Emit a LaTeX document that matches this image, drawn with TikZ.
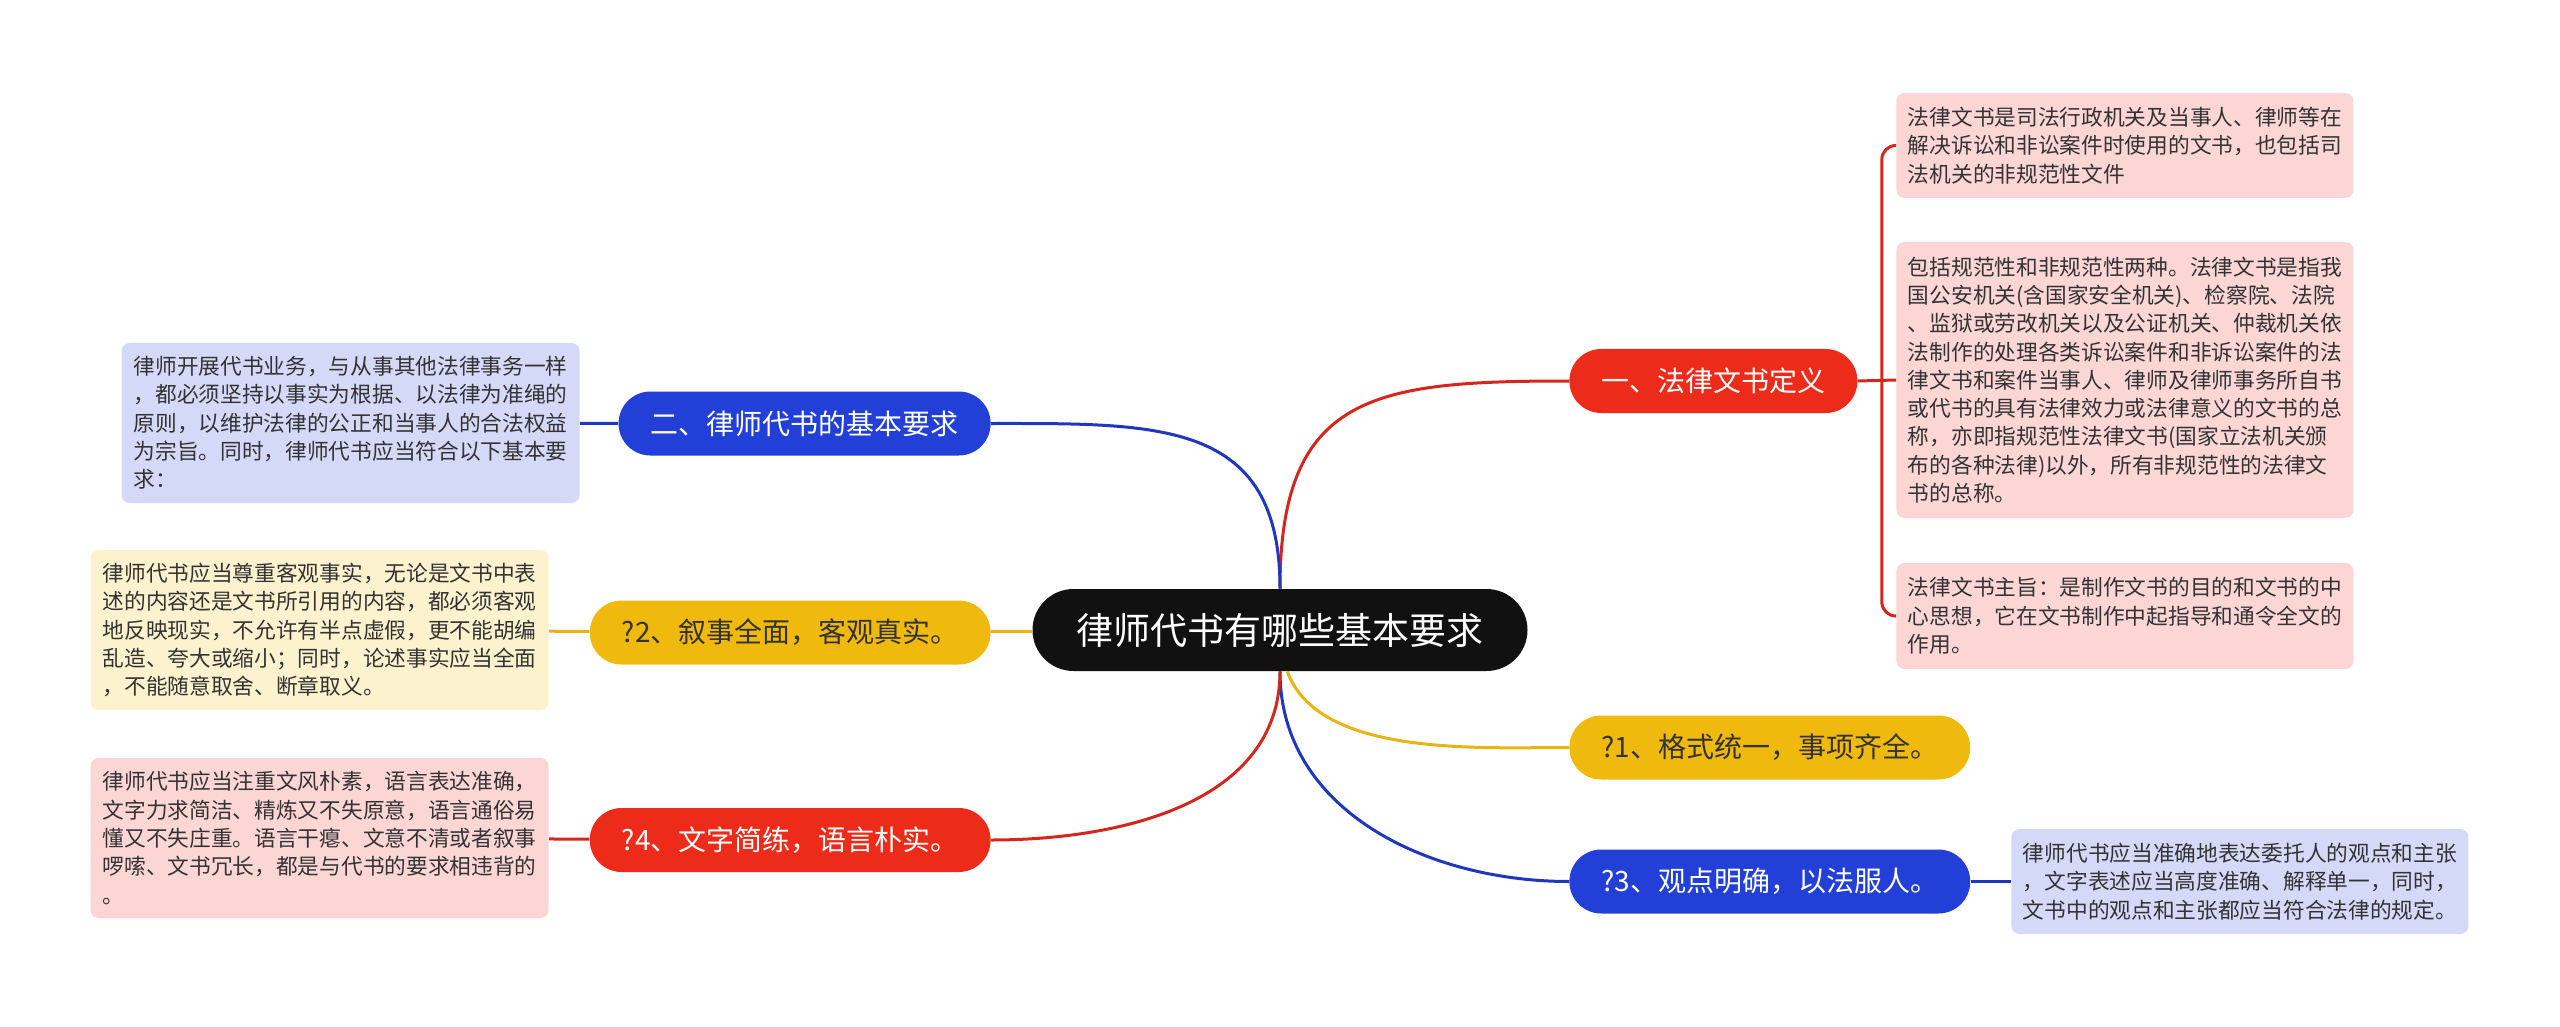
\documentclass[tikz,border=0pt]{standalone}
\usepackage{fontspec}
\setmainfont{Noto Sans CJK SC}
\definecolor{rootfill}{RGB}{17,17,17}
\definecolor{redfill}{RGB}{237,43,27}
\definecolor{yellowfill}{RGB}{240,185,13}
\definecolor{bluefill}{RGB}{34,64,216}
\definecolor{redline}{RGB}{212,38,28}
\definecolor{yellowline}{RGB}{232,180,20}
\definecolor{blueline}{RGB}{30,55,190}
\definecolor{pinkleaf}{RGB}{251,214,213}
\definecolor{blueleaf}{RGB}{212,217,248}
\definecolor{yellowleaf}{RGB}{253,242,206}
\definecolor{leaftext}{RGB}{51,51,51}
\begin{document}
\begin{tikzpicture}[x=0.5pt,y=0.5pt,
    topic/.style={rectangle,rounded corners=15.9pt,minimum height=32pt,inner xsep=16pt,
      font=\fontsize{14}{16}\selectfont,text=white},
    leaf/.style={rectangle,rounded corners=4pt,inner xsep=5.75pt,align=left,text=leaftext,
      font=\fontsize{10.85}{14.15}\selectfont}]
      \useasboundingbox (0,0) rectangle (2560,-1027);
      \draw
        (1280,-630) node[fill=rootfill,text=white,rounded corners=20.5pt,minimum height=41pt,
          inner xsep=22pt,font=\fontsize{18.5}{22}\selectfont] (0){律师代书有哪些基本要求}
        (1569,-381) node[topic,fill=redfill,anchor=west] (1){一、法律文书定义}
        (1569,-747.5) node[topic,fill=yellowfill,text=leaftext,anchor=west] (2){?1、格式统一，事项齐全。}
        (1569,-881.5) node[topic,fill=bluefill,anchor=west] (3){?3、观点明确，以法服人。}
        (991,-423.5) node[topic,fill=bluefill,anchor=east] (4){二、律师代书的基本要求}
        (991,-632.5) node[topic,fill=yellowfill,text=leaftext,anchor=east] (5){?2、叙事全面，客观真实。}
        (991,-840) node[topic,fill=redfill,anchor=east] (6){?4、文字简练，语言朴实。};
      \draw
        (1896,-145.5) node[leaf,fill=pinkleaf,anchor=west,minimum width=228.5pt,minimum height=52.5pt] (11)
          {法律文书是司法行政机关及当事人、律师等在\\解决诉讼和非讼案件时使用的文书，也包括司\\法机关的非规范性文件}
        (1896,-380) node[leaf,fill=pinkleaf,anchor=west,minimum width=228.5pt,minimum height=138pt] (12)
          {包括规范性和非规范性两种。法律文书是指我\\国公安机关(含国家安全机关)、检察院、法院\\、监狱或劳改机关以及公证机关、仲裁机关依\\法制作的处理各类诉讼案件和非诉讼案件的法\\律文书和案件当事人、律师及律师事务所自书\\或代书的具有法律效力或法律意义的文书的总\\称，亦即指规范性法律文书(国家立法机关颁\\布的各种法律)以外，所有非规范性的法律文\\书的总称。}
        (1896,-616) node[leaf,fill=pinkleaf,anchor=west,minimum width=228.5pt,minimum height=53pt] (13)
          {法律文书主旨：是制作文书的目的和文书的中\\心思想，它在文书制作中起指导和通令全文的\\作用。}
        (2011,-881.5) node[leaf,fill=blueleaf,anchor=west,minimum width=227pt,minimum height=52.5pt] (31)
          {律师代书应当准确地表达委托人的观点和主张\\，文字表述应当高度准确、解释单一，同时，\\文书中的观点和主张都应当符合法律的规定。}
        (580,-423) node[leaf,fill=blueleaf,anchor=east,minimum width=229pt,minimum height=80pt] (41)
          {律师开展代书业务，与从事其他法律事务一样\\，都必须坚持以事实为根据、以法律为准绳的\\原则，以维护法律的公正和当事人的合法权益\\为宗旨。同时，律师代书应当符合以下基本要\\求：}
        (549,-630) node[leaf,fill=yellowleaf,anchor=east,minimum width=229pt,minimum height=80pt] (51)
          {律师代书应当尊重客观事实，无论是文书中表\\述的内容还是文书所引用的内容，都必须客观\\地反映现实，不允许有半点虚假，更不能胡编\\乱造、夸大或缩小；同时，论述事实应当全面\\，不能随意取舍、断章取义。}
        (549,-838) node[leaf,fill=pinkleaf,anchor=east,minimum width=229pt,minimum height=80pt] (61)
          {律师代书应当注重文风朴素，语言表达准确，\\文字力求简洁、精炼又不失原意，语言通俗易\\懂又不失庄重。语言干瘪、文意不清或者叙事\\啰嗦、文书冗长，都是与代书的要求相违背的\\。};
      \coordinate (j1) at ([xshift=12pt]1.east);
      \begin{scope}[line width=1.5pt]
        \draw[redline] (0.north) to[out=90,in=180,looseness=1.4] (1.west);
        \draw[yellowline] (0.-80) to[out=-70,in=180,looseness=0.8] (2.west);
        \draw[blueline] (0.south) to[out=-90,in=180] (3.west);
        \draw[blueline] (0.north) to[out=90,in=0,looseness=1.3] (4.east);
        \draw[yellowline] (0) to (5);
        \draw[redline] (0.south) to[out=-90,in=0] (6.east);
        \draw[redline] (1.east) to (12.west);
        \draw[redline,rounded corners=7pt] (j1) |- (11.west);
        \draw[redline,rounded corners=7pt] (j1) |- (13.west);
        \draw[blueline] (3) to (31);
        \draw[blueline] (4) to (41);
        \draw[yellowline] (5) to (51);
        \draw[redline] (6) to (61);
      \end{scope}
    \end{tikzpicture}
\end{document}
